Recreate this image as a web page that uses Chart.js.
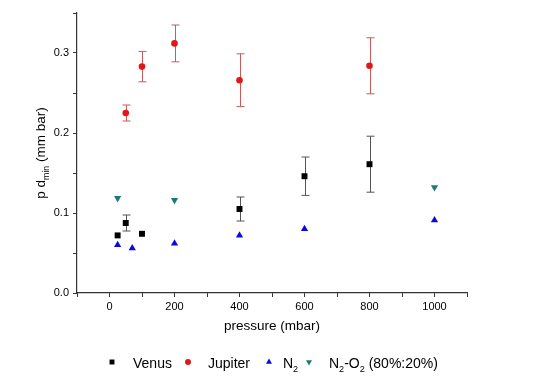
<!DOCTYPE html>
<html>
<head>
<meta charset="utf-8">
<script src="https://cdn.jsdelivr.net/npm/chart.js@4/dist/chart.umd.min.js"></script>
<style>
    body { margin: 0; background: #fff; }
    canvas { display: block; }
</style>
</head>
<body>
<canvas id="myChart" width="535" height="384"></canvas>
<script>
// data
const venusX = [25, 50, 100, 400, 600, 800];
const venusY = [0.072, 0.0875, 0.074, 0.105, 0.146, 0.161];
const venusErr = [0, 0.01, 0, 0.015, 0.024, 0.035];

const jupiterX = [50, 100, 200, 400, 800];
const jupiterY = [0.225, 0.283, 0.312, 0.266, 0.284];
const jupiterErr = [0.01, 0.019, 0.023, 0.033, 0.035];

const n2X = [25, 70, 200, 400, 600, 1000];
const n2Y = [0.060, 0.056, 0.062, 0.072, 0.080, 0.091];

const n2o2X = [25, 200, 1000];
const n2o2Y = [0.1185, 0.116, 0.132];

const xTickLabels = [0, 200, 400, 600, 800, 1000];
const yTickLabels = [0.0, 0.1, 0.2, 0.3];

const FONT = "'Liberation Sans', Arial, sans-serif";

function toPoints(xs, ys) {
    const pts = [];
    for (let i = 0; i < xs.length; i++) {
        pts.push({x: xs[i], y: ys[i]});
    }
    return pts;
}

// error bars, drawn under the markers
const errorBars = {
    id: 'errorBars',
    beforeDatasetsDraw(chart) {
        const ctx = chart.ctx;
        const xs = chart.scales.x;
        const ys = chart.scales.y;
        const sets = [
            [venusX, venusY, venusErr, '#555555'],
            [jupiterX, jupiterY, jupiterErr, '#c85a5a']
        ];
        ctx.save();
        ctx.lineWidth = 1;
        sets.forEach((s) => {
            ctx.strokeStyle = s[3];
            for (let i = 0; i < s[0].length; i++) {
                if (!s[2][i]) continue;
                const px = Math.round(xs.getPixelForValue(s[0][i])) + 0.5;
                const top = ys.getPixelForValue(s[1][i] + s[2][i]);
                const bot = ys.getPixelForValue(s[1][i] - s[2][i]);
                ctx.beginPath();
                ctx.moveTo(px, top);
                ctx.lineTo(px, bot);
                ctx.moveTo(px - 4, top);
                ctx.lineTo(px + 4, top);
                ctx.moveTo(px - 4, bot);
                ctx.lineTo(px + 4, bot);
                ctx.stroke();
            }
        });
        ctx.restore();
    }
};

// draw text with subscript parts: parts = [[text, isSub], ...]
function drawParts(ctx, parts, x, y, size) {
    let cx = x;
    parts.forEach((p) => {
        const s = p[1] ? size * 0.65 : size;
        ctx.font = s + "px " + FONT;
        ctx.fillText(p[0], cx, p[1] ? y + size * 0.3 : y);
        cx += ctx.measureText(p[0]).width;
    });
    return cx;
}

function partsWidth(ctx, parts, size) {
    let w = 0;
    parts.forEach((p) => {
        ctx.font = (p[1] ? size * 0.65 : size) + "px " + FONT;
        w += ctx.measureText(p[0]).width;
    });
    return w;
}

// axis titles and legend
const labels = {
    id: 'labels',
    afterDraw(chart) {
        const ctx = chart.ctx;
        const area = chart.chartArea;
        ctx.save();
        ctx.fillStyle = '#000';
        ctx.textBaseline = 'alphabetic';

        // x title
        ctx.font = "13.5px " + FONT;
        ctx.textAlign = 'center';
        ctx.fillText('pressure (mbar)', (area.left + area.right) / 2, 330);

        // y title
        ctx.textAlign = 'left';
        const yParts = [['p d', false], ['min', true], [' (mm bar)', false]];
        const w = partsWidth(ctx, yParts, 13.5);
        ctx.save();
        ctx.translate(45, (area.top + area.bottom) / 2);
        ctx.rotate(-Math.PI / 2);
        drawParts(ctx, yParts, -w / 2, 0, 13.5);
        ctx.restore();

        // legend
        const items = [
            [112, 133, 'rect', 3.5, '#000000', [['Venus', false]]],
            [188, 208, 'circle', 3, '#e01818', [['Jupiter', false]]],
            [269, 283, 'triangle', 3.5, '#0a0adc', [['N', false], ['2', true]]],
            [309, 329, 'triangle', 3.5, '#1f7a75', [['N', false], ['2', true], ['-O', false], ['2', true], [' (80%:20%)', false]]]
        ];
        items.forEach((it, i) => {
            ctx.fillStyle = it[4];
            ctx.strokeStyle = it[4];
            Chart.helpers.drawPoint(ctx, {
                pointStyle: it[2],
                radius: it[3],
                rotation: i === 3 ? 180 : 0,
                borderWidth: 0
            }, it[0], 362);
            ctx.fillStyle = '#000';
            drawParts(ctx, it[5], it[1], 368, 14);
        });
        ctx.restore();
    }
};

const ctx = document.getElementById('myChart');

new Chart(ctx, {
    type: 'scatter',
    data: {
        datasets: [
            {
                label: 'Venus',
                data: toPoints(venusX, venusY),
                pointStyle: 'rect',
                pointRadius: 4.2,
                backgroundColor: '#000000',
                borderColor: '#000000',
                borderWidth: 0
            },
            {
                label: 'Jupiter',
                data: toPoints(jupiterX, jupiterY),
                pointStyle: 'circle',
                pointRadius: 3.3,
                backgroundColor: '#e01818',
                borderColor: '#e01818',
                borderWidth: 0
            },
            {
                label: 'N2',
                data: toPoints(n2X, n2Y),
                pointStyle: 'triangle',
                pointRadius: 4.2,
                backgroundColor: '#0a0adc',
                borderColor: '#0a0adc',
                borderWidth: 0
            },
            {
                label: 'N2-O2 (80%:20%)',
                data: toPoints(n2o2X, n2o2Y),
                pointStyle: 'triangle',
                rotation: 180,
                pointRadius: 4.2,
                backgroundColor: '#1f7a75',
                borderColor: '#1f7a75',
                borderWidth: 0
            }
        ]
    },
    options: {
        responsive: false,
        animation: false,
        layout: {
            padding: {left: 0, right: 68, top: 13, bottom: 0}
        },
        plugins: {
            legend: {display: false},
            tooltip: {enabled: false}
        },
        scales: {
            x: {
                type: 'linear',
                min: -100,
                max: 1100,
                afterFit: (scale) => { scale.height = 91; },
                border: {color: '#333', width: 1.2},
                grid: {drawOnChartArea: false, drawTicks: true, tickLength: 4, color: '#333'},
                ticks: {
                    stepSize: 100,
                    autoSkip: false,
                    maxRotation: 0,
                    padding: 3,
                    color: '#000',
                    font: {family: FONT, size: 11},
                    callback: (v) => xTickLabels.includes(v) ? String(v) : ''
                }
            },
            y: {
                type: 'linear',
                min: 0,
                max: 0.35,
                afterFit: (scale) => { scale.width = 77; },
                border: {color: '#333', width: 1.2},
                grid: {drawOnChartArea: false, drawTicks: true, tickLength: 4, color: '#333'},
                ticks: {
                    stepSize: 0.05,
                    autoSkip: false,
                    padding: 4,
                    color: '#000',
                    font: {family: FONT, size: 11},
                    callback: (v) => {
                        const hit = yTickLabels.find((t) => Math.abs(t - v) < 1e-6);
                        return hit !== undefined ? hit.toFixed(1) : '';
                    }
                }
            }
        }
    },
    plugins: [errorBars, labels]
});
</script>
</body>
</html>
